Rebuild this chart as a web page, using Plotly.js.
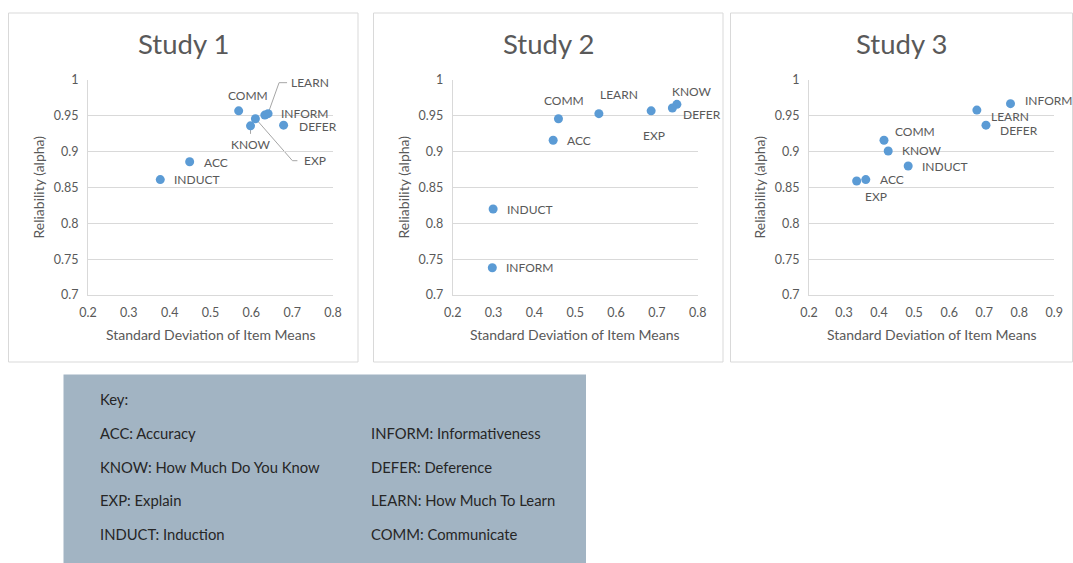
<!DOCTYPE html>
<html>
<head>
<meta charset="utf-8">
<script src="https://cdn.plot.ly/plotly-3.0.1.min.js"></script>
<style>
html,body{margin:0;padding:0;background:#fff;}
#chart{width:1073px;height:563px;}
</style>
</head>
<body>
<div id="chart"></div>
<script>
// ---- Data ----
var labels = ["ACC","KNOW","EXP","INDUCT","INFORM","DEFER","LEARN","COMM"];
var study1SD    = [0.449, 0.598, 0.610, 0.377, 0.633, 0.679, 0.641, 0.569];
var study1Alpha = [0.886, 0.936, 0.946, 0.861, 0.951, 0.937, 0.953, 0.957];
var study2SD    = [0.446, 0.749, 0.686, 0.299, 0.297, 0.738, 0.558, 0.459];
var study2Alpha = [0.916, 0.966, 0.957, 0.820, 0.738, 0.961, 0.953, 0.946];
var study3SD    = [0.362, 0.426, 0.336, 0.483, 0.775, 0.705, 0.679, 0.414];
var study3Alpha = [0.861, 0.901, 0.859, 0.880, 0.967, 0.937, 0.958, 0.916];
var studyTitles = ["Study 1","Study 2","Study 3"];
var xTickVals1 = [0.2,0.3,0.4,0.5,0.6,0.7,0.8];
var xTickVals3 = [0.2,0.3,0.4,0.5,0.6,0.7,0.8,0.9];
var yTickVals = [0.7,0.75,0.8,0.85,0.9,0.95,1];
var xTitle = "Standard Deviation of Item Means";
var yTitle = "Reliability (alpha)";
var keyHeader = "Key:";
var keyLeft  = ["ACC: Accuracy","KNOW: How Much Do You Know","EXP: Explain","INDUCT: Induction"];
var keyRight = ["INFORM: Informativeness","DEFER: Deference","LEARN: How Much To Learn","COMM: Communicate"];

// ---- Styling / layout helpers ----
var W = 1073, H = 563;
function px(x){ return x / W; }
function py(y){ return 1 - y / H; }
var FONT = "Lato, 'Open Sans', sans-serif";
var GREY = "#595959";
var DOT = "#5b9bd5";

var studies = [
  {sd: study1SD, a: study1Alpha, xr: [0.2,0.8], xt: xTickVals1, dom: [88,333], panel: [8.5,13,358,362], yTitleX: 38},
  {sd: study2SD, a: study2Alpha, xr: [0.2,0.8], xt: xTickVals1, dom: [452.7,697.7], panel: [373.5,13,723,362], yTitleX: 403},
  {sd: study3SD, a: study3Alpha, xr: [0.2,0.9], xt: xTickVals3, dom: [809,1054.3], panel: [730.5,13,1072.5,362], yTitleX: 759}
];
var plotTop = 80, plotBottom = 295;

// label placement: [xanchor, xshift, yshift] per label, per study
var labelPos = [
  {ACC:["left",13,-1], KNOW:["center",0,-19], EXP:["left",48,-42], INDUCT:["left",13,0],
   INFORM:["left",15,2], DEFER:["left",14,-1], LEARN:["left",22,31], COMM:["center",9,15]},
  {ACC:["left",13,0], KNOW:["center",15,13], EXP:["center",3,-25], INDUCT:["left",13,0],
   INFORM:["left",13,0], DEFER:["left",10,-7], LEARN:["center",20,19], COMM:["center",6,18]},
  {ACC:["left",13,0], KNOW:["left",13,0], EXP:["center",19,-15], INDUCT:["left",13,0],
   INFORM:["left",13,3], DEFER:["left",13,-5], LEARN:["left",13,-6], COMM:["left",10,9]}
];
// leader lines (pixel paths relative to the point), study index -> label -> path
var leaders = [
  {LEARN:"M1,3 L11,31 L19,31", EXP:"M2,-2 L37,-42 L42,-42", KNOW:"M0,0 L0,-8"},
  {}, {}
];

var traces = [], annotations = [], shapes = [];
var layout = {
  width: W, height: H,
  margin: {l:0, r:0, t:0, b:0},
  paper_bgcolor: "#ffffff",
  plot_bgcolor: "rgba(0,0,0,0)",
  showlegend: false,
  font: {family: FONT, color: GREY}
};

studies.forEach(function(s, i){
  var n = i === 0 ? "" : String(i+1);
  var xa = "xaxis" + n, ya = "yaxis" + n;
  var xr = "x" + n, yr = "y" + n;
  // panel border
  shapes.push({type:"rect", xref:"paper", yref:"paper", layer:"below",
    x0: px(s.panel[0]), x1: px(s.panel[2]), y0: py(s.panel[3]), y1: py(s.panel[1]),
    line:{color:"#d9d9d9", width:1}, fillcolor:"rgba(0,0,0,0)"});
  layout[xa] = {
    domain: [px(s.dom[0]), px(s.dom[1])], anchor: yr, range: s.xr,
    tickvals: s.xt, ticks: "", showgrid: false, zeroline: false,
    showline: true, linecolor: "#d9d9d9", linewidth: 1,
    tickfont: {family: FONT, size: 12.5, color: GREY}, ticklabelstandoff: 6, fixedrange: true
  };
  layout[ya] = {
    domain: [py(plotBottom), py(plotTop)], anchor: xr, range: [0.7, 1],
    tickvals: yTickVals, ticks: "", showgrid: true, gridcolor: "#d9d9d9", gridwidth: 1,
    zeroline: false, showline: true, linecolor: "#d9d9d9", linewidth: 1,
    tickfont: {family: FONT, size: 12.5, color: GREY}, ticklabelstandoff: 6, fixedrange: true
  };
  traces.push({
    type: "scatter", mode: "markers", x: s.sd, y: s.a, text: labels,
    xaxis: xr, yaxis: yr, hoverinfo: "text+x+y",
    marker: {size: 9, color: DOT}, cliponaxis: false
  });
  // point labels
  labels.forEach(function(lab, k){
    var p = labelPos[i][lab];
    annotations.push({
      x: s.sd[k], y: s.a[k], xref: xr, yref: yr, text: lab, showarrow: false,
      xanchor: p[0], yanchor: "middle", xshift: p[1], yshift: p[2], borderpad: 0,
      font: {family: FONT, size: 12, color: GREY}
    });
    if (leaders[i][lab]) {
      shapes.push({type:"path", xref: xr, yref: yr, xsizemode:"pixel", ysizemode:"pixel",
        xanchor: s.sd[k], yanchor: s.a[k], path: leaders[i][lab],
        line:{color:"#a6a6a6", width:1}, layer:"below"});
    }
  });
  // study title
  annotations.push({xref:"paper", yref:"paper", x: px((s.panel[0]+s.panel[2])/2), y: py(44),
    text: studyTitles[i], showarrow:false, xanchor:"center", yanchor:"middle",
    font:{family: FONT, size: 27.5, color: GREY}});
  // axis titles
  annotations.push({xref:"paper", yref:"paper", x: px((s.dom[0]+s.dom[1])/2), y: py(334),
    text: xTitle, showarrow:false, xanchor:"center", yanchor:"middle",
    font:{family: FONT, size: 14, color: GREY}});
  annotations.push({xref:"paper", yref:"paper", x: px(s.yTitleX), y: py((plotTop+plotBottom)/2),
    text: yTitle, showarrow:false, xanchor:"center", yanchor:"middle", textangle: -90,
    font:{family: FONT, size: 14, color: GREY}});
});

// key box
shapes.push({type:"rect", xref:"paper", yref:"paper", layer:"below",
  x0: px(63.5), x1: px(586), y0: 0, y1: py(374.5),
  line:{width:0}, fillcolor:"#a2b4c3"});
var KEYC = "#262626";
annotations.push({xref:"paper", yref:"paper", x: px(98), y: py(399), text: keyHeader,
  showarrow:false, xanchor:"left", yanchor:"middle", font:{family: FONT, size: 14.8, color: KEYC}});
var rowY = [433, 466.5, 500, 534];
keyLeft.forEach(function(t, r){
  annotations.push({xref:"paper", yref:"paper", x: px(98), y: py(rowY[r]), text: t,
    showarrow:false, xanchor:"left", yanchor:"middle", font:{family: FONT, size: 14.8, color: KEYC}});
});
keyRight.forEach(function(t, r){
  annotations.push({xref:"paper", yref:"paper", x: px(369), y: py(rowY[r]), text: t,
    showarrow:false, xanchor:"left", yanchor:"middle", font:{family: FONT, size: 14.8, color: KEYC}});
});

layout.shapes = shapes;
layout.annotations = annotations;
Plotly.newPlot("chart", traces, layout, {staticPlot: true, displayModeBar: false});
</script>
</body>
</html>
